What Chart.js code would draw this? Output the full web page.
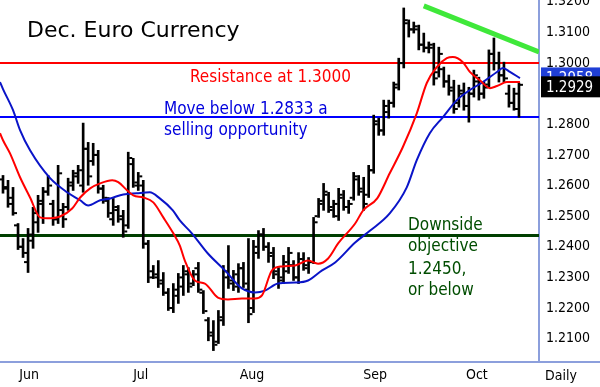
<!DOCTYPE html>
<html>
<head>
<meta charset="utf-8">
<script src="https://cdn.jsdelivr.net/npm/chart.js@4.4.1/dist/chart.umd.min.js"></script>
<style>
body{margin:0;background:#fff}
#wrap{width:600px;height:387px}
</style>
</head>
<body>
<div id="wrap"><canvas id="c"></canvas></div>
<script>
// daily bars (one per trading day)
const barHigh = [1.2633,1.2617,1.2594,1.2476,1.2427,1.2460,1.2529,1.2568,1.2594,1.2633,
1.2552,1.2666,1.2542,1.2624,1.2650,1.2666,1.2804,1.2741,1.2738,1.2715,
1.2601,1.2561,1.2558,1.2535,1.2519,1.2709,1.2689,1.2643,1.2617,1.2421,
1.2339,1.2355,1.2316,1.2264,1.2280,1.2313,1.2339,1.2332,1.2323,1.2349,
1.2257,1.2169,1.2159,1.2192,1.2339,1.2404,1.2323,1.2345,1.2349,1.2427,
1.2421,1.2453,1.2460,1.2414,1.2398,1.2332,1.2372,1.2398,1.2355,1.2381,
1.2381,1.2365,1.2496,1.2558,1.2607,1.2578,1.2552,1.2591,1.2584,1.2552,
1.2643,1.2633,1.2627,1.2666,1.2830,1.2820,1.2879,1.2879,1.2938,1.3016,
1.3180,1.3141,1.3134,1.3124,1.3098,1.3069,1.3065,1.3052,1.2987,1.2961,
1.2944,1.2928,1.2935,1.2921,1.2977,1.2954,1.2938,1.3043,1.3082,1.3036,
1.3003,1.2928,1.2918,1.2935];
const barLow = [1.2575,1.2529,1.2503,1.2391,1.2365,1.2316,1.2395,1.2447,1.2476,1.2568,
1.2470,1.2476,1.2463,1.2519,1.2584,1.2607,1.2578,1.2601,1.2666,1.2575,
1.2542,1.2496,1.2470,1.2480,1.2431,1.2460,1.2594,1.2584,1.2395,1.2283,
1.2296,1.2267,1.2241,1.2192,1.2185,1.2215,1.2241,1.2251,1.2273,1.2251,
1.2182,1.2093,1.2061,1.2084,1.2143,1.2264,1.2257,1.2251,1.2267,1.2152,
1.2185,1.2362,1.2388,1.2349,1.2296,1.2264,1.2280,1.2313,1.2290,1.2280,
1.2323,1.2313,1.2345,1.2496,1.2519,1.2512,1.2496,1.2486,1.2519,1.2509,
1.2552,1.2568,1.2519,1.2561,1.2640,1.2764,1.2764,1.2820,1.2856,1.2912,
1.2984,1.3085,1.3098,1.3043,1.3036,1.3033,1.2928,1.2954,1.2921,1.2895,
1.2836,1.2856,1.2846,1.2807,1.2889,1.2879,1.2885,1.2921,1.2977,1.2938,
1.2938,1.2856,1.2846,1.2823];
const barOpen = [1.2620,1.2595,1.2560,1.2470,1.2400,1.2350,1.2420,1.2480,1.2540,1.2580,
1.2540,1.2490,1.2520,1.2530,1.2600,1.2630,1.2600,1.2720,1.2680,1.2700,
1.2590,1.2550,1.2490,1.2520,1.2500,1.2470,1.2670,1.2600,1.2600,1.2410,
1.2320,1.2300,1.2290,1.2250,1.2200,1.2240,1.2270,1.2310,1.2280,1.2330,
1.2250,1.2160,1.2120,1.2090,1.2160,1.2300,1.2290,1.2270,1.2330,1.2260,
1.2200,1.2380,1.2440,1.2400,1.2380,1.2320,1.2300,1.2320,1.2340,1.2300,
1.2360,1.2330,1.2350,1.2500,1.2550,1.2570,1.2520,1.2500,1.2560,1.2530,
1.2560,1.2620,1.2580,1.2570,1.2650,1.2800,1.2780,1.2840,1.2870,1.2930,
1.3000,1.3130,1.3110,1.3110,1.3060,1.3050,1.3050,1.2970,1.2980,1.2940,
1.2920,1.2870,1.2900,1.2860,1.2900,1.2940,1.2900,1.2930,1.3030,1.3000,
1.2960,1.2900,1.2870,1.2850];
const barClose = [1.2590,1.2540,1.2510,1.2400,1.2380,1.2440,1.2510,1.2550,1.2580,1.2600,
1.2490,1.2640,1.2490,1.2610,1.2640,1.2650,1.2720,1.2630,1.2700,1.2590,
1.2560,1.2510,1.2530,1.2490,1.2450,1.2690,1.2610,1.2630,1.2410,1.2300,
1.2310,1.2280,1.2250,1.2200,1.2260,1.2300,1.2320,1.2270,1.2310,1.2260,
1.2190,1.2110,1.2080,1.2170,1.2320,1.2280,1.2310,1.2330,1.2280,1.2180,
1.2400,1.2440,1.2400,1.2370,1.2310,1.2290,1.2350,1.2380,1.2300,1.2360,
1.2340,1.2350,1.2480,1.2540,1.2580,1.2530,1.2540,1.2570,1.2530,1.2540,
1.2630,1.2590,1.2540,1.2650,1.2810,1.2780,1.2860,1.2870,1.2920,1.3000,
1.3140,1.3110,1.3120,1.3060,1.3050,1.3060,1.2950,1.3030,1.2940,1.2910,
1.2850,1.2910,1.2860,1.2900,1.2960,1.2900,1.2920,1.3030,1.3000,1.2960,
1.2950,1.2870,1.2900,1.2929];

// moving averages (x = bar index)
const redMaX = [-0.6,0,1.4,3.4,5.4,7.4,8.8,11.4,13.8,15.4,17.4,19.4,21.8,23,24.8,26,28,30,32,34,35.3,
36.3,38.3,40.3,42.9,44.9,47.7,50.3,51.7,53.7,55.7,58.3,60.9,62.9,64.9,66.9,70.3,71.9,74.7,77.2,79.8,
82.6,84.6,86.6,88.6,89.8,91.8,93.2,95.2,97.2,98.6,100.6,103.2];
const redMaY = [1.2771,1.2748,1.2705,1.2627,1.2561,1.2496,1.2493,1.2499,1.2525,1.2561,1.2591,1.2607,1.2617,1.2611,1.2584,1.2568,1.2561,1.2545,1.2496,1.2444,1.2404,
1.2355,1.2290,1.2280,1.2234,1.2228,1.2231,1.2231,1.2241,1.2323,1.2336,1.2339,1.2355,1.2345,1.2362,1.2411,1.2476,1.2519,1.2558,1.2640,1.2725,
1.2836,1.2935,1.2987,1.3016,1.3020,1.3003,1.2971,1.2944,1.2918,1.2925,1.2938,1.2938];
const blueMaX = [-0.6,0,2,3.4,5.4,9.4,12.8,15.4,17,19.4,21.4,24,26.7,29.3,31.3,33.9,35.3,37.7,40.9,44.3,47.7,
50.3,52.3,54.9,58.3,60.9,63.7,66.3,70.3,73.3,77.2,80.6,82.6,85.2,87.8,90.6,93.2,95.8,98.6,99.8,101.2,103.2];
const blueMaY = [1.2938,1.2915,1.2846,1.2781,1.2715,1.2624,1.2578,1.2552,1.2535,1.2552,1.2558,1.2571,1.2575,1.2578,1.2558,1.2519,1.2486,1.2444,1.2378,1.2323,1.2264,
1.2251,1.2257,1.2280,1.2283,1.2290,1.2323,1.2349,1.2414,1.2453,1.2509,1.2594,1.2683,1.2771,1.2823,1.2879,1.2912,1.2938,1.2971,1.2984,1.2971,1.2951];

// drawn levels and trend line
const resistLevel = 1.3000;
const sellLevel = 1.2824;
const downLevel = 1.2437;
const trendX = [84, 107];
const trendY = [1.3187, 1.3036];

// axis
const yTicks = [1.21,1.22,1.23,1.24,1.25,1.26,1.27,1.28,1.29,1.30,1.31,1.32];
const monthPos = [5.2, 27.5, 49.7, 74.3, 94.6];
const monthNames = ['Jun','Jul','Aug','Sep','Oct'];
const xMin = -0.6, xMax = 107;
const yMin = 1.2027, yMax = 1.3206;
const lastClose = 1.2929;
const lastBlueMa = 1.2958;

const FONT = '"DejaVu Sans Condensed", "DejaVu Sans", sans-serif';

function flat(v){ return [{x:xMin,y:v},{x:xMax,y:v}]; }

const ohlcTicks = {
  id: 'ohlcTicks',
  afterDatasetDraw(chart, args){
    if (args.meta.type !== 'bar') return;
    const ctx = chart.ctx, xs = chart.scales.x, ys = chart.scales.y;
    ctx.save();
    ctx.fillStyle = '#000';
    for (let i = 0; i < barOpen.length; i++) {
      const x = xs.getPixelForValue(i);
      ctx.fillRect(x - 4, ys.getPixelForValue(barOpen[i]) - 1, 3, 2);
      ctx.fillRect(x + 1, ys.getPixelForValue(barClose[i]) - 1, 3, 2);
    }
    ctx.restore();
  }
};

const labels = {
  id: 'labels',
  afterDraw(chart){
    const ctx = chart.ctx, ys = chart.scales.y;
    ctx.save();
    ctx.textBaseline = 'alphabetic';
    ctx.textAlign = 'left';
    ctx.fillStyle = '#000';
    ctx.font = '22px "DejaVu Sans"';
    ctx.fillText('Dec. Euro Currency', 27, 37);

    ctx.font = '17px ' + FONT;
    ctx.fillStyle = '#ff0000';
    ctx.fillText('Resistance at 1.3000', 190, 82);
    ctx.fillStyle = '#0000dd';
    ctx.fillText('Move below 1.2833 a', 164, 114);
    ctx.fillText('selling opportunity', 164, 135);
    ctx.fillStyle = '#004d00';
    ctx.fillText('Downside', 408, 230);
    ctx.fillText('objective', 408, 251);
    ctx.fillText('1.2450,', 408, 274);
    ctx.fillText('or below', 408, 295);

    // bottom rule across the whole width
    ctx.fillStyle = '#8c9fdc';
    ctx.fillRect(0, chart.chartArea.bottom, 600, 2);

    ctx.fillStyle = '#000';
    ctx.font = '14px ' + FONT;
    ctx.textAlign = 'center';
    ctx.fillText('Daily', 561, 380);

    // last value boxes
    ctx.textAlign = 'left';
    ctx.textBaseline = 'middle';
    ctx.font = '15px ' + FONT;
    [[lastBlueMa, '#1f3fd6'], [lastClose, '#000']].forEach(([v, bg]) => {
      const yc = ys.getPixelForValue(v) + 2;
      ctx.fillStyle = bg;
      ctx.fillRect(541, yc - 10.5, 59, 21);
      ctx.fillStyle = '#fff';
      ctx.fillText(v.toFixed(4), 546, yc + 1);
    });
    ctx.restore();
  }
};

new Chart(document.getElementById('c'), {
  data: {
    datasets: [
      {type:'line', data: flat(resistLevel), borderColor:'#ff0000', borderWidth:2, pointRadius:0, order:5},
      {type:'line', data: flat(sellLevel), borderColor:'#0000ff', borderWidth:2, pointRadius:0, order:5},
      {type:'line', data: flat(downLevel), borderColor:'#003f00', borderWidth:3, pointRadius:0, order:5},
      {type:'bar', data: barHigh.map((h, i) => ({x: i, y: [barLow[i], h]})),
        backgroundColor:'#000', barThickness:2, grouped:false, order:4},
      {type:'line', data: blueMaX.map((x, i) => ({x, y: blueMaY[i]})), borderColor:'#0a14c8', borderWidth:2,
        pointRadius:0, cubicInterpolationMode:'monotone', order:2},
      {type:'line', data: redMaX.map((x, i) => ({x, y: redMaY[i]})), borderColor:'#ff0000', borderWidth:2,
        pointRadius:0, cubicInterpolationMode:'monotone', order:1},
      {type:'line', data: trendX.map((x, i) => ({x, y: trendY[i]})), borderColor:'#3fe83a', borderWidth:5,
        pointRadius:0, order:0}
    ]
  },
  options: {
    responsive: true,
    maintainAspectRatio: false,
    animation: false,
    events: [],
    layout: {padding: 0},
    plugins: {legend:{display:false}, tooltip:{enabled:false}},
    scales: {
      x: {
        type:'linear', min:xMin, max:xMax, offset:false,
        afterBuildTicks: s => { s.ticks = monthPos.map(v => ({value:v})); },
        afterFit: s => { s.height = 26; s.paddingLeft = 0; s.paddingRight = 0; },
        grid:{display:false, drawTicks:false, offset:false},
        border:{display:false},
        ticks:{padding:6, maxRotation:0, autoSkip:false, color:'#000',
          font:{family:FONT, size:14}, callback:(v, i) => monthNames[i]}
      },
      y: {
        position:'right', min:yMin, max:yMax,
        afterBuildTicks: s => { s.ticks = yTicks.map(v => ({value:v})); },
        afterFit: s => { s.width = 61; s.paddingTop = 0; s.paddingBottom = 0; },
        grid:{display:false, drawTicks:false},
        border:{color:'#8c9fdc', width:2},
        ticks:{padding:7, color:'#000', font:{family:FONT, size:14},
          callback: v => Number(v).toFixed(4)}
      }
    }
  },
  plugins: [ohlcTicks, labels]
});
</script>
</body>
</html>
